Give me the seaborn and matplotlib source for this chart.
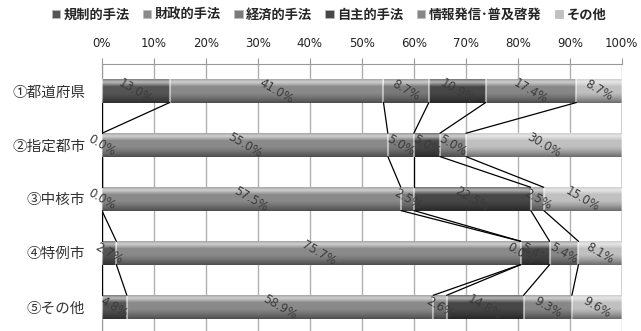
import numpy as np
import pandas as pd
import matplotlib
matplotlib.use("Agg")
import matplotlib.pyplot as plt
from matplotlib.patches import Patch
import seaborn as sns

# data
categories = ["①都道府県", "②指定都市", "③中核市", "④特例市", "⑤その他"]
series = ["規制的手法", "財政的手法", "経済的手法", "自主的手法", "情報発信･普及啓発", "その他"]
kisei = [13.0, 0.0, 0.0, 2.7, 4.8]
zaisei = [41.0, 55.0, 57.5, 75.7, 58.9]
keizai = [8.7, 5.0, 2.5, 0.0, 2.6]
jishu = [10.9, 5.0, 22.5, 5.4, 14.8]
joho = [17.4, 5.0, 2.5, 5.4, 9.3]
sonota = [8.7, 30.0, 15.0, 8.1, 9.6]
colors = ["#555555", "#8a8a8a", "#7a7a7a", "#474747", "#878787", "#c0c0c0"]

sns.set_style("white")
plt.rcParams["font.family"] = ["DejaVu Sans", "Noto Sans CJK JP"]

vals = np.array([kisei, zaisei, keizai, jishu, joho, sonota])  # series x category
share = vals / vals.sum(axis=0) * 100  # 100% stacked
cum = np.cumsum(share, axis=0)
prev = cum - share

fig = plt.figure(figsize=(6.41, 3.31), dpi=100)
ax = fig.add_axes([0.159, -0.009, 0.811, 0.816])

bar_h = 0.43
# draw cumulative layers from the longest to the shortest
for k in range(len(series) - 1, -1, -1):
    df = pd.DataFrame({"cat": categories, "cum": cum[k]})
    sns.barplot(data=df, x="cum", y="cat", orient="h", color=colors[k],
                width=bar_h, saturation=1, linewidth=0, ax=ax, zorder=2)

# shading gradient for a bevelled look (white highlight on top, dark at bottom)
n = 80
prof = np.linspace(0, 1, n)
light = np.clip(1 - np.abs(prof - 0.12) / 0.2, 0, 1)
dark = np.clip((prof - 0.55) / 0.45, 0, 1) ** 1.3
grad = np.zeros((n, 1, 4))
grad[:, 0, :3] = (light > dark)[:, None].astype(float)
grad[:, 0, 3] = np.maximum(0.6 * light, 0.45 * dark)
for k in range(len(series)):
    for i in range(len(categories)):
        if share[k, i] <= 0:
            continue
        ax.imshow(grad, extent=(prev[k, i], cum[k, i], i + bar_h / 2, i - bar_h / 2),
                  aspect="auto", interpolation="bilinear", zorder=3)
        for xe in (prev[k, i], cum[k, i]):
            ax.plot([xe, xe], [i - bar_h / 2, i + bar_h / 2], color="white",
                    alpha=0.3, lw=1.5, zorder=3.5)

# series lines between consecutive bars
edges = np.vstack([np.zeros(len(categories)), cum])
for k in range(edges.shape[0]):
    for i in range(len(categories) - 1):
        ax.plot([edges[k, i], edges[k, i + 1]], [i + bar_h / 2, i + 1 - bar_h / 2],
                color="black", lw=0.9, zorder=4)

# value labels
for k in range(len(series)):
    for i in range(len(categories)):
        ax.text((prev[k, i] + cum[k, i]) / 2, i, f"{vals[k, i]:.1f}%",
                rotation=-30, ha="center", va="center", fontsize=8.5,
                color="#3a3a3a", zorder=5)

ax.set_xlim(0, 100)
ax.set_ylim(4.5, -0.5)
ax.set_xticks(np.arange(0, 101, 10))
ax.set_xticklabels([f"{t}%" for t in range(0, 101, 10)], fontsize=8.5, color="#222222")
ax.xaxis.tick_top()
ax.tick_params(axis="x", length=4, color="#999999", pad=6)
ax.set_yticks(range(len(categories)))
ax.set_yticklabels(categories, fontsize=10.5, color="#333333",
                   family=["Noto Sans CJK JP", "DejaVu Sans"])
ax.tick_params(axis="y", length=0, pad=12)
ax.set_yticks(np.arange(0.5, 4.5, 1), minor=True)
ax.tick_params(axis="y", which="minor", length=4, color="#999999")
ax.set_xlabel("")
ax.set_ylabel("")
ax.grid(axis="x", color="#b0b0b0", lw=1, zorder=0)
ax.set_axisbelow(True)
for s in ["right", "bottom"]:
    ax.spines[s].set_visible(False)
for s in ["top", "left"]:
    ax.spines[s].set_color("#999999")

handles = [Patch(facecolor=c, edgecolor="#bbbbbb", lw=0.5) for c in colors]
fig.legend(handles, series, loc="center", bbox_to_anchor=(0.513, 0.956), ncol=6,
           frameon=False, handlelength=0.65, handleheight=0.65, handletextpad=0.25,
           columnspacing=1.0,
           prop={"family": ["Noto Sans CJK JP", "DejaVu Sans"], "size": 9.5, "weight": "bold"})

fig.savefig("out.png", dpi=100)
